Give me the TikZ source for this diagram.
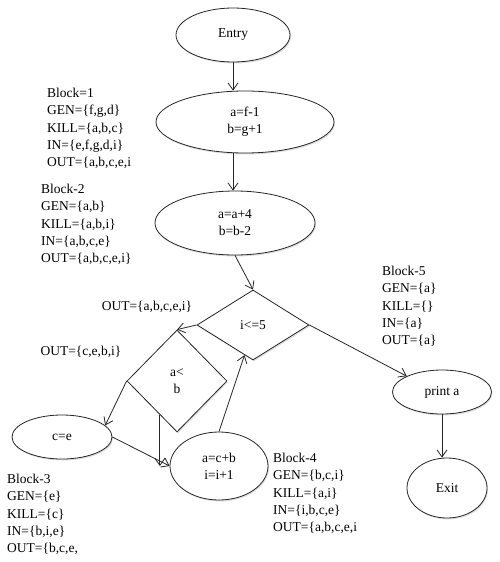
\documentclass[tikz,border=0pt]{standalone}
\usepackage{fontspec}
\setmainfont{Liberation Serif}
\usetikzlibrary{arrows.meta, shapes.geometric, positioning, calc, shadows}

\begin{document}
\begin{tikzpicture}[x=1pt, y=1pt,
      blk/.style={ellipse, draw=black!85, fill=white, line width=0.8pt,
          inner sep=0pt, align=center, font=\fontsize{13.5}{17}\selectfont,
          drop shadow={shadow xshift=1pt, shadow yshift=-1.5pt, opacity=0.25}},
      cond/.style={diamond, draw=black!85, fill=white, line width=0.8pt,
          inner sep=0pt, align=center, font=\fontsize{13.5}{17}\selectfont,
          drop shadow={shadow xshift=1pt, shadow yshift=-1.5pt, opacity=0.25}},
      arr/.style={-{Straight Barb[length=7pt, width=10pt]}, black!85, line width=0.8pt},
      info/.style={anchor=north west, inner sep=0pt, align=left,
          font=\fontsize{13.5}{17.3}\selectfont},
      lbl/.style={inner sep=0pt, font=\fontsize{13.5}{17}\selectfont}
    ]
    \useasboundingbox (0,0) rectangle (499,-562);

    % blocks of the flow graph
    \node[blk, minimum width=114, minimum height=54] (entry) at (233,-35) {Entry};
    \node[blk, minimum width=178, minimum height=62] (b1) at (245,-122) {a=f-1\\b=g+1};
    \node[blk, minimum width=160, minimum height=64] (b2) at (235,-223) {a=a+4\\b=b-2};
    \node[cond, minimum width=112, minimum height=70] (i5) at (253,-325) {i<=5};
    \node[cond, minimum width=100, minimum height=102] (ab) at (177,-381) {a<\\b};
    \node[blk, minimum width=100, minimum height=44] (ce) at (62,-437) {c=e};
    \node[blk, minimum width=98, minimum height=68] (b4) at (219,-466) {a=c+b\\i=i+1};
    \node[blk, minimum width=99, minimum height=44] (pr) at (442,-392) {print a};
    \node[blk, minimum width=80, minimum height=60] (exit) at (447,-488) {Exit};

    % data flow sets
    \node[info] (s1) at (47,-88)  {Block=1\\GEN=\{f,g,d\}\\KILL=\{a,b,c\}\\IN=\{e,f,g,d,i\}\\OUT=\{a,b,c,e,i};
    \node[info] (s2) at (41,-184) {Block-2\\GEN=\{a,b\}\\KILL=\{a,b,i\}\\IN=\{a,b,c,e\}\\OUT=\{a,b,c,e,i\}};
    \node[info] (s3) at (7,-474)  {Block-3\\GEN=\{e\}\\KILL=\{c\}\\IN=\{b,i,e\}\\OUT=\{b,c,e,};
    \node[info] (s4) at (273,-453) {Block-4\\GEN=\{b,c,i\}\\KILL=\{a,i\}\\IN=\{i,b,c,e\}\\OUT=\{a,b,c,e,i};
    \node[info] (s5) at (382,-266) {Block-5\\GEN=\{a\}\\KILL=\{\}\\IN=\{a\}\\OUT=\{a\}};
    \node[lbl] (o1) at (147,-307) {OUT=\{a,b,c,e,i\}};
    \node[lbl] (o2) at (81,-352)  {OUT=\{c,e,b,i\}};

    \coordinate (abl) at ($(ab.west)!0.66!(ab.south)$);
    \coordinate (i5l) at ($(i5.west)!0.85!(i5.south)$);

    \draw[arr] (entry.south) -- (entry.south |- b1.north);
    \draw[arr] (b1.south -| entry.south) -- (b2.north -| entry.south);
    \draw[arr] (b2.south) -- (i5.north);
    \draw[arr] (i5.west) -- (ab.north);
    \draw[arr] (ab.west) -- (ce.15);
    \draw[arr] (ce.east) -- (b4.west);
    \draw[arr] (abl) -- (abl |- b4.west);
    \draw[arr] (b4.north) -- (i5l);
    \draw[arr] (i5.east) -- (pr.north west);
    \draw[arr] (pr.south) -- (pr.south |- exit.north);
  \end{tikzpicture}
\end{document}
